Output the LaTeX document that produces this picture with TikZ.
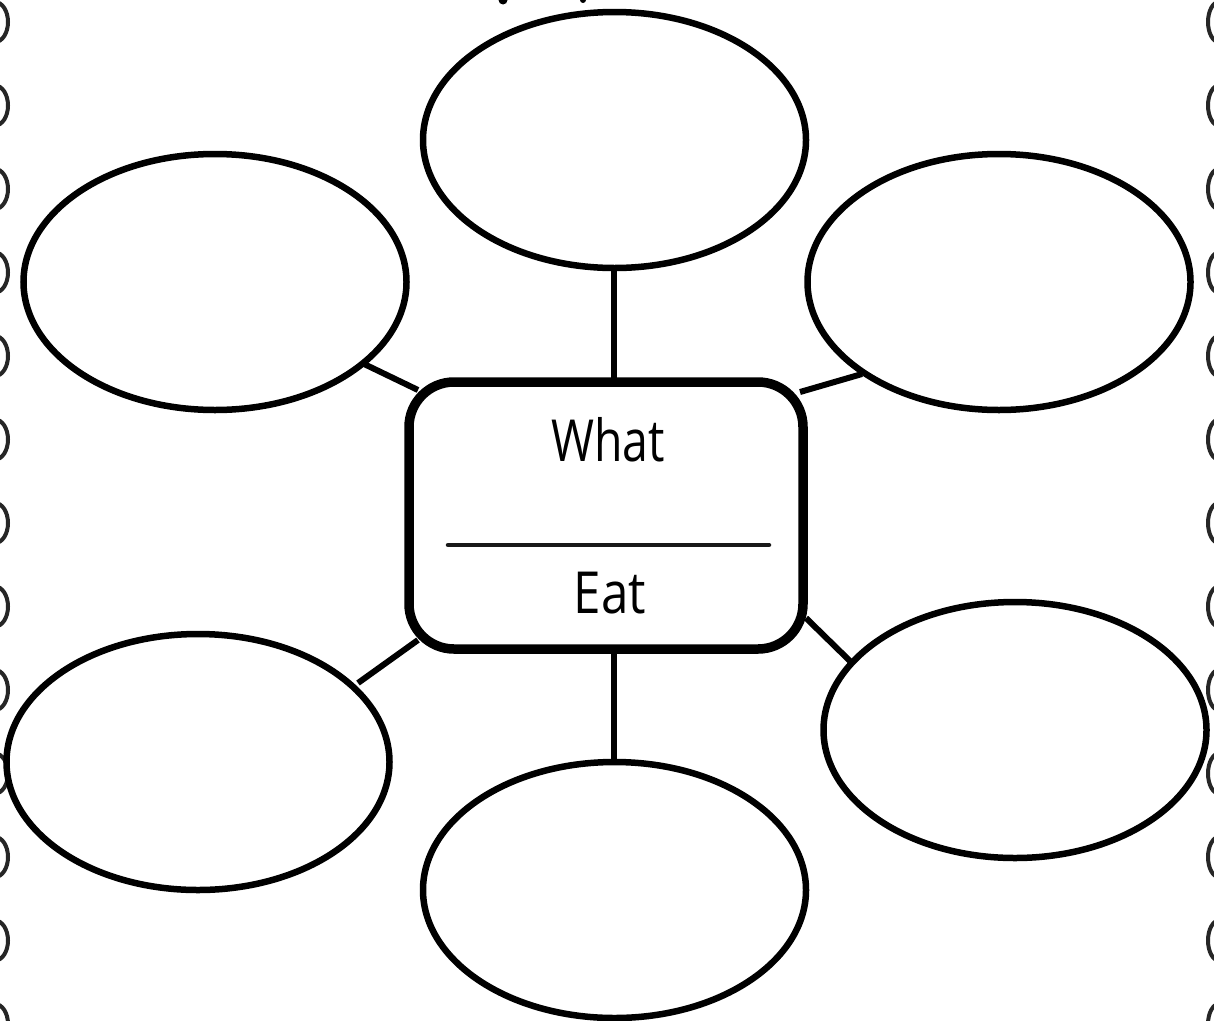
\documentclass[tikz,border=0pt]{standalone}
\usepackage{fontspec}
\setmainfont{Open Sans}
\usetikzlibrary{shapes.geometric}
\begin{document}
\begin{tikzpicture}[x=1pt,y=-1pt,
  bubble/.style={draw=black,line width=6.5pt,ellipse,minimum width=383pt,minimum height=256pt,inner sep=0pt},
  centrebox/.style={draw=black,line width=9.5pt,rounded corners=45pt,minimum width=394pt,minimum height=267pt,inner sep=0pt},
  link/.style={draw=black,line width=6pt},
  swirl/.style={draw=black!85,line width=4pt},
  label/.style={font=\fontsize{58}{60}\selectfont,inner sep=0pt}]
\useasboundingbox[fill=white] (0,0) rectangle (1214,1020);
% border swirls
\foreach \c in {22,105.5,189,272.5,356,439.5,523,606.5,690,773.5,857,940.5,1024}{
  \draw[swirl] (-5,\c) ellipse [x radius=13, y radius=20];
  \draw[swirl] (1219,\c) ellipse [x radius=11, y radius=20];
}
% cut-off title marks
\fill (503,0) circle (4.5);
\fill (583,0) circle (3);
% nodes
\node[centrebox] (box) at (606,515.5) {};
\node[bubble] (top) at (614.5,140) {};
\node[bubble] (ul) at (215,282) {};
\node[bubble] (ur) at (999,282) {};
\node[bubble] (ll) at (198,762) {};
\node[bubble] (lr) at (1015,730) {};
\node[bubble] (bot) at (614.5,890) {};
\node[label] (what) at (608,440) {\scalebox{0.8}[1]{What}};
\node[label] (eat) at (610,593) {\scalebox{0.85}[1]{Eat}};
\coordinate (divl) at (448,545);
\coordinate (divr) at (769,545);
\draw[black!90,line width=4.5pt,line cap=round] (divl) -- (divr);
% connector end points
\coordinate (c1a) at (614,378); \coordinate (c1b) at (614,268);
\coordinate (c2a) at (614,653); \coordinate (c2b) at (614,762);
\coordinate (c3a) at (418,390); \coordinate (c3b) at (362,363);
\coordinate (c4a) at (800,392); \coordinate (c4b) at (862,374);
\coordinate (c5a) at (418,640); \coordinate (c5b) at (358,683);
\coordinate (c6a) at (806,618); \coordinate (c6b) at (852,663);
\draw[link] (c1a) -- (c1b);
\draw[link] (c2a) -- (c2b);
\draw[link] (c3a) -- (c3b);
\draw[link] (c4a) -- (c4b);
\draw[link] (c5a) -- (c5b);
\draw[link] (c6a) -- (c6b);
\end{tikzpicture}
\end{document}
